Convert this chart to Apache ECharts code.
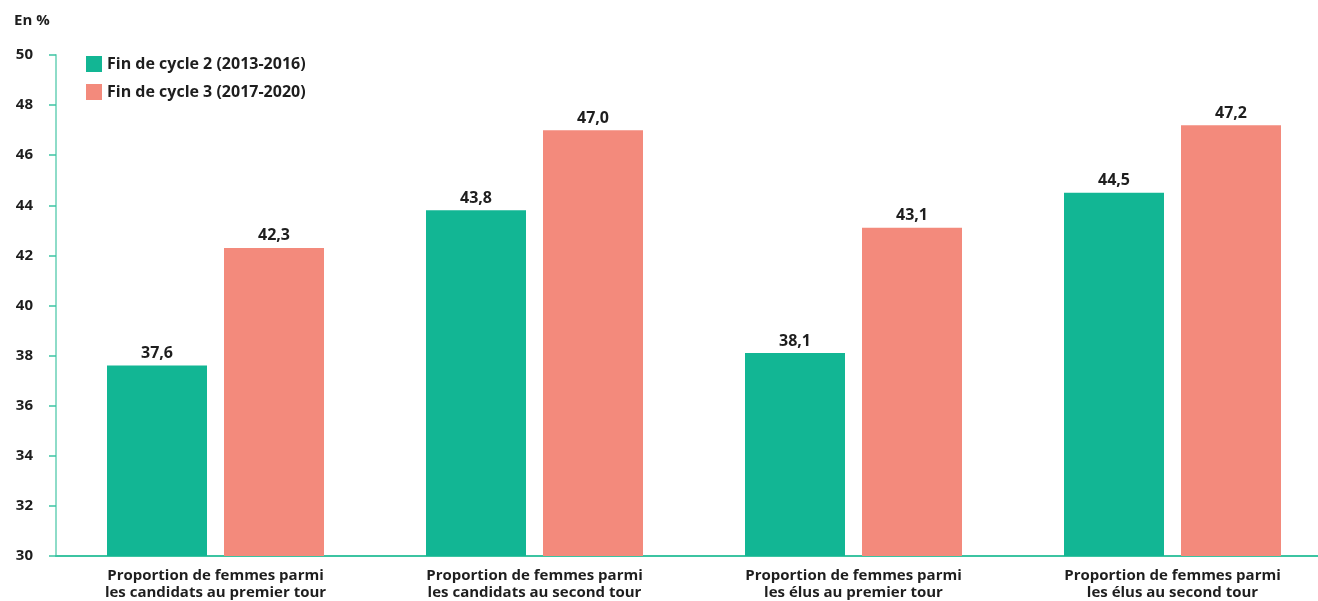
<!DOCTYPE html>
<html><head><meta charset="utf-8">
<script src="https://cdn.jsdelivr.net/npm/echarts@6/dist/echarts.min.js"></script>
<style>html,body{margin:0;padding:0;background:#fff;overflow:hidden;width:1318px;height:601px}#c{width:1332px;height:601px}</style>
</head><body><div id="c"></div>
<script>
const categories = [
  "Proportion de femmes parmi\nles candidats au premier tour",
  "Proportion de femmes parmi\nles candidats au second tour",
  "Proportion de femmes parmi\nles élus au premier tour",
  "Proportion de femmes parmi\nles élus au second tour"
];
const seriesNames = ["Fin de cycle 2 (2013-2016)", "Fin de cycle 3 (2017-2020)"];
const cycle2 = [37.6, 43.8, 38.1, 44.5];
const cycle3 = [42.3, 47.0, 43.1, 47.2];
const yUnit = "En %";

const FONT = "Open Sans";
const TXT = "#1e1e1e";
const chart = echarts.init(document.getElementById('c'));
const fmt = p => p.value.toFixed(1).replace('.', ',');
chart.setOption({
  animation: false,
  textStyle: { fontFamily: FONT },
  title: { text: yUnit, left: 9, top: 8, textStyle: { fontFamily: FONT, fontSize: 15, fontWeight: 'bold', color: TXT } },
  legend: {
    orient: 'vertical', left: 81, top: 51, itemWidth: 16, itemHeight: 16, itemGap: 12,
    icon: 'rect',
    textStyle: { fontFamily: FONT, fontSize: 16, fontWeight: 'bold', color: TXT },
    data: seriesNames
  },
  grid: { left: 56, top: 55, right: 0, bottom: 43, containLabel: false },
  xAxis: {
    type: 'category', data: categories,
    axisLine: { lineStyle: { color: '#3cc4a2', width: 2 } },
    axisTick: { show: false },
    axisLabel: { interval: 0, fontFamily: FONT, fontSize: 15, fontWeight: 'bold', color: TXT, lineHeight: 17, margin: 11 }
  },
  yAxis: {
    type: 'value', min: 30, max: 50, interval: 2,
    axisLine: { show: true, lineStyle: { color: '#8edcc8', width: 2 } },
    axisTick: { show: true, length: 7, lineStyle: { color: '#3cc4a2', width: 1.5 } },
    splitLine: { show: false },
    axisLabel: { fontFamily: FONT, fontSize: 15, fontWeight: 'bold', color: TXT, margin: 23 }
  },
  series: [
    { name: seriesNames[0], type: 'bar', data: cycle2, barWidth: 100, barGap: '17%',
      itemStyle: { color: '#12b694' },
      label: { show: true, position: 'top', distance: 4, formatter: fmt, fontFamily: FONT, fontSize: 16, fontWeight: 'bold', color: TXT } },
    { name: seriesNames[1], type: 'bar', data: cycle3, barWidth: 100,
      itemStyle: { color: '#f38a7c' },
      label: { show: true, position: 'top', distance: 4, formatter: fmt, fontFamily: FONT, fontSize: 16, fontWeight: 'bold', color: TXT } }
  ]
});
</script></body></html>
